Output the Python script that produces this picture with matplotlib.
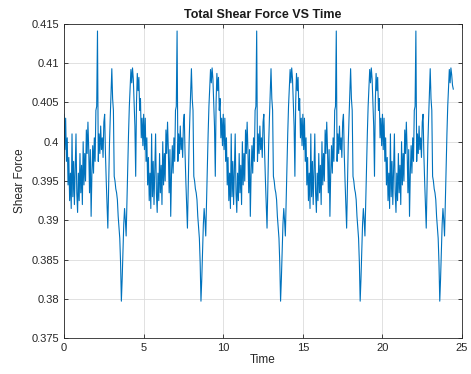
import numpy as np
import matplotlib
matplotlib.use('Agg')
import matplotlib.pyplot as plt
from matplotlib.ticker import FormatStrFormatter, FuncFormatter

dt = 0.05
cycle_1 = [0.4035, 0.3990, 0.4030, 0.3975, 0.4005, 0.3945, 0.3980, 0.3925, 0.3960, 0.3915,
           0.4010, 0.3930, 0.3975, 0.3920, 0.3965, 0.4010, 0.3935, 0.3910, 0.3960, 0.3925,
           0.3985, 0.3935, 0.3970, 0.3920, 0.4000, 0.3945, 0.3985, 0.3950, 0.4015, 0.3985,
           0.4025, 0.3990, 0.3935, 0.3990, 0.3905, 0.3960, 0.3995, 0.3960, 0.4005, 0.3975,
           0.4040, 0.4045, 0.4141, 0.3975, 0.4010, 0.3985, 0.4020, 0.3990, 0.4005, 0.3980,
           0.4025, 0.4035, 0.3985, 0.3950, 0.3920, 0.3890, 0.3945, 0.3995, 0.4030, 0.4060,
           0.4093, 0.4055, 0.4040, 0.3956, 0.3950, 0.3940, 0.3935, 0.3926, 0.3905, 0.3890,
           0.3877, 0.3846, 0.3797, 0.3825, 0.3860, 0.3895, 0.3915, 0.3900, 0.3880, 0.3925,
           0.3970, 0.4010, 0.4045, 0.4070, 0.4092, 0.4075, 0.4094, 0.4080, 0.4050, 0.4020,
           0.3956, 0.4050, 0.4087, 0.4065, 0.4082, 0.4040, 0.4055, 0.4005, 0.4030, 0.3995]
cycle_2 = [0.4035, 0.3990, 0.4030, 0.3975, 0.4005, 0.3945, 0.3980, 0.3925, 0.3960, 0.3915,
           0.4010, 0.3930, 0.3975, 0.3920, 0.3965, 0.4010, 0.3935, 0.3910, 0.3960, 0.3925,
           0.3985, 0.3935, 0.3970, 0.3920, 0.4000, 0.3945, 0.3985, 0.3950, 0.4015, 0.3985,
           0.4025, 0.3990, 0.3935, 0.3990, 0.3905, 0.3960, 0.3995, 0.3960, 0.4005, 0.3975,
           0.4040, 0.4045, 0.4141, 0.3975, 0.4010, 0.3985, 0.4020, 0.3990, 0.4005, 0.3980,
           0.4025, 0.4035, 0.3985, 0.3950, 0.3920, 0.3890, 0.3945, 0.3995, 0.4030, 0.4060,
           0.4093, 0.4055, 0.4040, 0.3956, 0.3950, 0.3940, 0.3935, 0.3926, 0.3905, 0.3890,
           0.3877, 0.3846, 0.3797, 0.3825, 0.3860, 0.3895, 0.3915, 0.3900, 0.3880, 0.3925,
           0.3970, 0.4010, 0.4045, 0.4070, 0.4092, 0.4075, 0.4094, 0.4080, 0.4050, 0.4020,
           0.3956, 0.4050, 0.4087, 0.4065, 0.4082, 0.4040, 0.4055, 0.4005, 0.4030, 0.3995]
cycle_3 = [0.4035, 0.3990, 0.4030, 0.3975, 0.4005, 0.3945, 0.3980, 0.3925, 0.3960, 0.3915,
           0.4010, 0.3930, 0.3975, 0.3920, 0.3965, 0.4010, 0.3935, 0.3910, 0.3960, 0.3925,
           0.3985, 0.3935, 0.3970, 0.3920, 0.4000, 0.3945, 0.3985, 0.3950, 0.4015, 0.3985,
           0.4025, 0.3990, 0.3935, 0.3990, 0.3905, 0.3960, 0.3995, 0.3960, 0.4005, 0.3975,
           0.4040, 0.4045, 0.4141, 0.3975, 0.4010, 0.3985, 0.4020, 0.3990, 0.4005, 0.3980,
           0.4025, 0.4035, 0.3985, 0.3950, 0.3920, 0.3890, 0.3945, 0.3995, 0.4030, 0.4060,
           0.4093, 0.4055, 0.4040, 0.3956, 0.3950, 0.3940, 0.3935, 0.3926, 0.3905, 0.3890,
           0.3877, 0.3846, 0.3797, 0.3825, 0.3860, 0.3895, 0.3915, 0.3900, 0.3880, 0.3925,
           0.3970, 0.4010, 0.4045, 0.4070, 0.4092, 0.4075, 0.4094, 0.4080, 0.4050, 0.4020,
           0.3956, 0.4050, 0.4087, 0.4065, 0.4082, 0.4040, 0.4055, 0.4005, 0.4030, 0.3995]
cycle_4 = [0.4035, 0.3990, 0.4030, 0.3975, 0.4005, 0.3945, 0.3980, 0.3925, 0.3960, 0.3915,
           0.4010, 0.3930, 0.3975, 0.3920, 0.3965, 0.4010, 0.3935, 0.3910, 0.3960, 0.3925,
           0.3985, 0.3935, 0.3970, 0.3920, 0.4000, 0.3945, 0.3985, 0.3950, 0.4015, 0.3985,
           0.4025, 0.3990, 0.3935, 0.3990, 0.3905, 0.3960, 0.3995, 0.3960, 0.4005, 0.3975,
           0.4040, 0.4045, 0.4141, 0.3975, 0.4010, 0.3985, 0.4020, 0.3990, 0.4005, 0.3980,
           0.4025, 0.4035, 0.3985, 0.3950, 0.3920, 0.3890, 0.3945, 0.3995, 0.4030, 0.4060,
           0.4093, 0.4055, 0.4040, 0.3956, 0.3950, 0.3940, 0.3935, 0.3926, 0.3905, 0.3890,
           0.3877, 0.3846, 0.3797, 0.3825, 0.3860, 0.3895, 0.3915, 0.3900, 0.3880, 0.3925,
           0.3970, 0.4010, 0.4045, 0.4070, 0.4092, 0.4075, 0.4094, 0.4080, 0.4050, 0.4020,
           0.3956, 0.4050, 0.4087, 0.4065, 0.4082, 0.4040, 0.4055, 0.4005, 0.4030, 0.3995]
cycle_5 = [0.4035, 0.3990, 0.4030, 0.3975, 0.4005, 0.3945, 0.3980, 0.3925, 0.3960, 0.3915,
           0.4010, 0.3930, 0.3975, 0.3920, 0.3965, 0.4010, 0.3935, 0.3910, 0.3960, 0.3925,
           0.3985, 0.3935, 0.3970, 0.3920, 0.4000, 0.3945, 0.3985, 0.3950, 0.4015, 0.3985,
           0.4025, 0.3990, 0.3935, 0.3990, 0.3905, 0.3960, 0.3995, 0.3960, 0.4005, 0.3975,
           0.4040, 0.4045, 0.4141, 0.3975, 0.4010, 0.3985, 0.4020, 0.3990, 0.4005, 0.3980,
           0.4025, 0.4035, 0.3985, 0.3950, 0.3920, 0.3890, 0.3945, 0.3995, 0.4030, 0.4060,
           0.4093, 0.4055, 0.4040, 0.3956, 0.3950, 0.3940, 0.3935, 0.3926, 0.3905, 0.3890,
           0.3877, 0.3846, 0.3797, 0.3825, 0.3860, 0.3895, 0.3915, 0.3900, 0.3880, 0.3925,
           0.3970, 0.4010, 0.4045, 0.4070, 0.4092, 0.4075, 0.4094, 0.4085, 0.4072, 0.4067]

x_ticks = [0, 5, 10, 15, 20, 25]
y_ticks = [0.375, 0.38, 0.385, 0.39, 0.395, 0.4, 0.405, 0.41, 0.415]

shear = np.array(cycle_1 + cycle_2 + cycle_3 + cycle_4 + cycle_5)
time = np.arange(len(shear)) * dt

plt.rcParams['font.family'] = ['Liberation Sans', 'DejaVu Sans']

fig = plt.figure(figsize=(4.71, 3.74), dpi=100)
ax = fig.add_axes([0.136, 0.096, 0.845, 0.840])

ax.plot(time, shear, color='#0072BD', linewidth=0.8)

ax.set_xlim(0, 25)
ax.set_ylim(0.375, 0.415)
ax.set_xticks(x_ticks)
ax.set_yticks(y_ticks)
ax.yaxis.set_major_formatter(FuncFormatter(lambda v, p: '%g' % round(v, 4)))

ax.grid(True, color='#dcdcdc', linewidth=0.6)
ax.set_axisbelow(True)
ax.tick_params(direction='in', top=True, right=True, length=3,
               width=0.6, colors='#262626', labelsize=8)
for sp in ax.spines.values():
    sp.set_color('#262626')
    sp.set_linewidth(0.6)

ax.set_title('Total Shear Force VS Time', fontsize=9, fontweight='bold',
             color='#1a1a1a', pad=4)
ax.set_xlabel('Time', fontsize=8.5, color='#262626', labelpad=1)
ax.set_ylabel('Shear Force', fontsize=8.5, color='#262626', labelpad=4)

fig.savefig('out.png', dpi=100)
